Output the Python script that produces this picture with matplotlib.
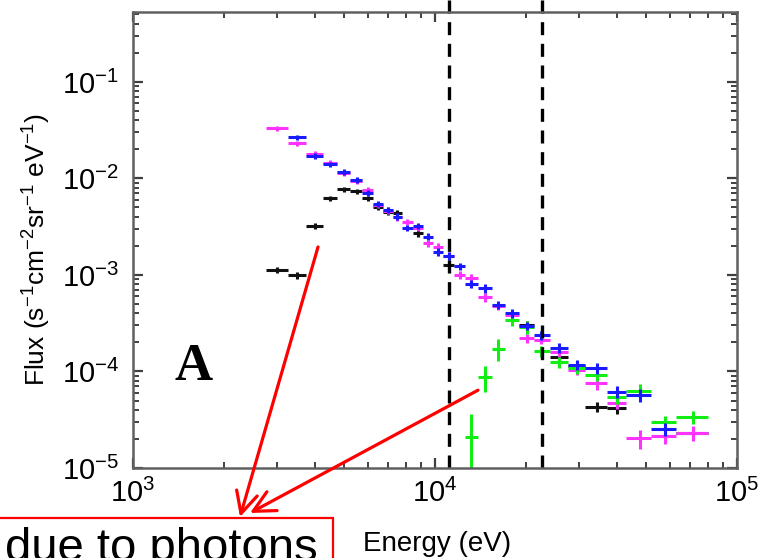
import numpy as np
import matplotlib
matplotlib.use("Agg")
import matplotlib.pyplot as plt
from matplotlib.patches import Rectangle
from matplotlib.ticker import LogLocator, NullFormatter

plt.rcParams['font.family'] = ['Liberation Sans', 'DejaVu Sans']
plt.rcParams['mathtext.fontset'] = 'custom'
plt.rcParams['mathtext.rm'] = 'Liberation Sans'
plt.rcParams['mathtext.default'] = 'regular'
plt.rcParams['axes.unicode_minus'] = False

nan = np.nan

# energy bins (eV): centres and edges
energy = [3000, 3500, 4000, 4500, 5000, 5500, 6000, 6500, 7000, 7500,
          8100, 8800, 9500, 10250, 11100, 12100, 13200, 14600, 16200, 18000,
          20100, 22500, 25800, 29500, 34300, 40000, 47700, 57700, 71500]
edges = [2750, 3250, 3750, 4250, 4750, 5250, 5750, 6250, 6750, 7250,
         7800, 8450, 9150, 9850, 10650, 11600, 12600, 13900, 15400, 17100,
         19000, 21300, 24000, 27500, 31500, 37000, 43000, 52000, 63000, 80000]

flux_magenta = [0.0331, 0.0232, 0.0180, 0.0146, 0.0114, 0.00942, 0.00760, 0.00531, 0.00463, 0.00394,
                0.00356, 0.00307, 0.00213, 0.00196, 0.00157, 0.00100, 0.000925, 0.000588, 0.000478, 0.000385,
                0.000221, 0.000212, 0.000159, 0.000104, 7.55e-5, 4.75e-5, 2.03e-5, 2.16e-5, 2.32e-5]
flux_blue = [nan, 0.0267, 0.0171, 0.0141, 0.0116, 0.00964, 0.00713, 0.00545, 0.00472, 0.00402,
             0.00307, 0.00322, 0.00249, 0.00174, 0.00158, 0.00123, 0.000807, 0.000728, 0.000489, 0.000401,
             0.000297, 0.000236, 0.000175, 0.000117, 0.000108, 6.18e-5, 5.70e-5, 2.52e-5, nan]
flux_black = [0.00113, 0.000989, 0.00324, 0.00624, 0.00778, 0.00741, 0.00621, 0.00507, 0.00453, 0.00434,
              nan, 0.00270, nan, nan, 0.00126, nan, nan, nan, nan, nan,
              0.000300, nan, 0.000141, 0.000114, 4.31e-5, 4.16e-5, nan, nan, 2.31e-5]
flux_green = [nan] * 16 + [2.08e-5, 8.83e-5, 0.000172, 0.000344, 0.000291, 0.000162, 0.000124,
                           0.000109, 9.27e-5, 5.41e-5, 6.25e-5, 2.99e-5, 3.35e-5]

# fractional 1-sigma errors
err_magenta = [0.06, 0.06, 0.06, 0.06, 0.07, 0.07, 0.07, 0.08, 0.08, 0.08,
               0.08, 0.08, 0.08, 0.09, 0.09, 0.09, 0.10, 0.10, 0.10, 0.10,
               0.10, 0.10, 0.12, 0.12, 0.14, 0.15, 0.22, 0.18, 0.17]
err_blue = [0.06, 0.06, 0.06, 0.06, 0.07, 0.07, 0.07, 0.08, 0.08, 0.08,
            0.08, 0.08, 0.08, 0.09, 0.09, 0.09, 0.10, 0.10, 0.10, 0.10,
            0.10, 0.10, 0.12, 0.12, 0.13, 0.14, 0.15, 0.15, 0.15]
err_black = [0.08, 0.09, 0.07, 0.06, 0.06, 0.06, 0.07, 0.08, 0.08, 0.08,
             0.08, 0.08, 0.08, 0.09, 0.09, 0.09, 0.10, 0.10, 0.10, 0.10,
             0.10, 0.10, 0.12, 0.12, 0.12, 0.12, 0.15, 0.15, 0.15]
err_green = [0.1] * 16 + [0.73, 0.30, 0.25, 0.15, 0.15, 0.13, 0.13,
                          0.13, 0.15, 0.15, 0.18, 0.16, 0.15]

band_edges = [11150, 22550]

W, H = 761, 558
fig = plt.figure(figsize=(W / 100, H / 100), dpi=100)
ax = fig.add_axes([133 / W, 1 - 468 / H, (737 - 133) / W, (468 - 12) / H])

E = np.array(energy)
lo = np.array(edges[:-1])
hi = np.array(edges[1:])
xerr = np.vstack([E - lo, hi - E])

series = [
    (flux_black, err_black, '#111111'),
    (flux_magenta, err_magenta, '#ff33ff'),
    (flux_green, err_green, '#11ee11'),
    (flux_blue, err_blue, '#1a1aff'),
]
for flux, err, color in series:
    f = np.array(flux)
    r = np.array(err)
    ax.errorbar(E, f, xerr=xerr, yerr=np.vstack([f * r, f * r]),
                fmt='none', ecolor=color, elinewidth=2.2, capsize=0)

ax.set_xscale('log')
ax.set_yscale('log')
ax.set_xlim(1e3, 1e5)
ax.set_ylim(1e-5, 0.53)
for axis in (ax.xaxis, ax.yaxis):
    axis.set_major_locator(LogLocator(base=10.0))
    axis.set_minor_locator(LogLocator(base=10.0, subs=(2, 3, 4, 5, 6, 7, 8, 9)))
    axis.set_minor_formatter(NullFormatter())

# band boundaries, drawn past the top of the frame
for eb in band_edges:
    ax.plot([eb, eb], [1.026, 0.0], transform=ax.get_xaxis_transform(),
            color='black', lw=2.4, linestyle=(0, (3.9, 2.6)), clip_on=False)

for s in ax.spines.values():
    s.set_color('#606060')
    s.set_linewidth(1.8)
ax.tick_params(which='both', direction='in', top=True, right=True, color='#404040')
ax.tick_params(which='major', length=7.5, width=1.6, labelsize=21, pad=8)
ax.tick_params(which='minor', length=4.5, width=1.4)
ax.tick_params(axis='y', pad=10)

ax.set_xlabel('Energy (eV)', fontsize=20)
ax.xaxis.set_label_coords(0.503, -0.138)
ax.set_ylabel('Flux (s$^{-1}$cm$^{-2}$sr$^{-1}$ eV$^{-1}$)', fontsize=19)
ax.yaxis.set_label_coords(-0.133, 0.48)

ax.text(194, H - 367, 'A', transform=None, fontsize=38, fontweight='bold',
        family='Liberation Serif', ha='center', va='center')

# callout arrows pointing to the note box below the plot
arrows = [((4099, 1.95e-3), (240, H - 517)), ((13880, 6.4e-5), (250, H - 513))]
for start, tip in arrows:
    ax.annotate('', xy=tip, xycoords='figure pixels', xytext=start, textcoords='data',
                arrowprops=dict(arrowstyle='->,head_length=0.7,head_width=0.35', color='red',
                                lw=2.3, mutation_scale=22, shrinkA=0, shrinkB=0),
                annotation_clip=False)

fig.patches.append(Rectangle((-5 / W, -20 / H), 338 / W, (H - 518 + 20) / H,
                             transform=fig.transFigure, fill=False, edgecolor='red', lw=1.6))
fig.text(5 / W, -3 / H, 'due to photons', fontsize=34, ha='left', va='baseline')

fig.savefig('out.png', dpi=100)
